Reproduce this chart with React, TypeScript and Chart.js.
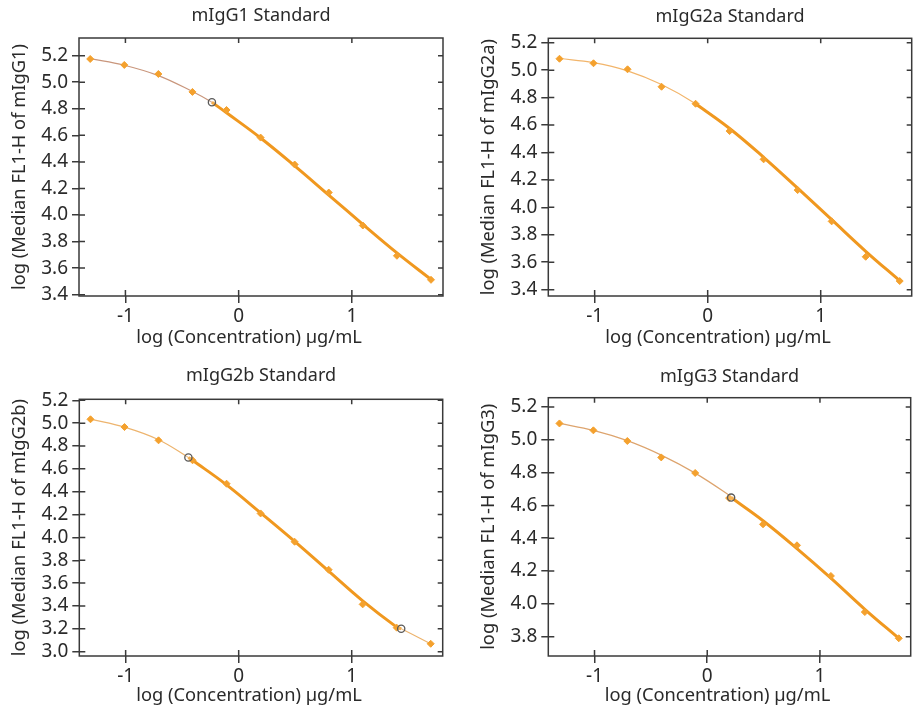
import React, { useEffect, useRef } from 'react';
import { Chart, registerables } from 'chart.js';

Chart.register(...registerables);

// ---------- data ----------
const logConc = [-1.311, -1.01, -0.709, -0.408, -0.107, 0.194, 0.495, 0.796, 1.097, 1.398, 1.699];
const xTicks = [-1, 0, 1];

const titles = ['mIgG1 Standard', 'mIgG2a Standard', 'mIgG2b Standard', 'mIgG3 Standard'];
const yTitles = [
  'log (Median FL1-H of mIgG1)',
  'log (Median FL1-H of mIgG2a)',
  'log (Median FL1-H of mIgG2b)',
  'log (Median FL1-H of mIgG3)',
];
const xTitle = 'log (Concentration) µg/mL';

// measured standards
const g1Measured = [5.175, 5.13, 5.062, 4.927, 4.791, 4.583, 4.38, 4.169, 3.921, 3.693, 3.512];
const g2aMeasured = [5.083, 5.05, 5.006, 4.879, 4.755, 4.556, 4.35, 4.126, 3.898, 3.64, 3.463];
const g2bMeasured = [5.034, 4.966, 4.85, 4.675, 4.47, 4.21, 3.962, 3.717, 3.414, 3.21, 3.069];
const g3Measured = [5.1, 5.058, 4.993, 4.893, 4.798, 4.645, 4.485, 4.357, 4.17, 3.95, 3.79];

// fitted curve read at the standard concentrations
const g1Fit = [5.178, 5.128, 5.05, 4.93, 4.77, 4.58, 4.37, 4.15, 3.93, 3.715, 3.515];
const g2aFit = [5.085, 5.055, 4.995, 4.895, 4.755, 4.575, 4.365, 4.14, 3.91, 3.68, 3.465];
const g2bFit = [5.035, 4.965, 4.855, 4.675, 4.46, 4.215, 3.965, 3.705, 3.445, 3.215, 3.068];
const g3Fit = [5.1, 5.058, 4.995, 4.907, 4.797, 4.662, 4.507, 4.337, 4.157, 3.967, 3.79];

// quantification limits (open circles) on the curve
const g1LimitX = [-0.236];
const g1LimitY = [4.849];
const g2aLimitX: number[] = [];
const g2aLimitY: number[] = [];
const g2bLimitX = [-0.445, 1.438];
const g2bLimitY = [4.7, 3.2];
const g3LimitX = [0.212];
const g3LimitY = [4.648];

// thick (quantifiable) range of each curve
const g1Range = [-0.236, 1.699];
const g2aRange = [-0.12, 1.699];
const g2bRange = [-0.445, 1.438];
const g3Range = [0.212, 1.699];

// axis ranges
const xRange = [-1.41, 1.805];
const g1YRange = [3.39, 5.333];
const g2aYRange = [3.354, 5.232];
const g2bYRange = [2.962, 5.209];
const g3YRange = [3.682, 5.257];

const g1YTicks = [3.4, 3.6, 3.8, 4.0, 4.2, 4.4, 4.6, 4.8, 5.0, 5.2];
const g2aYTicks = [3.4, 3.6, 3.8, 4.0, 4.2, 4.4, 4.6, 4.8, 5.0, 5.2];
const g2bYTicks = [3.0, 3.2, 3.4, 3.6, 3.8, 4.0, 4.2, 4.4, 4.6, 4.8, 5.0, 5.2];
const g3YTicks = [3.8, 4.0, 4.2, 4.4, 4.6, 4.8, 5.0, 5.2];

// ---------- styles ----------
const FONT = "'Noto Sans', 'DejaVu Sans', sans-serif";
const TEXT = '#2a2a2a';
const AXIS = '#3a3a3a';
const MARKER = '#F4A12E';
const THICK = '#F0981F';

const panels = [
  {
    title: titles[0], yTitle: yTitles[0], measured: g1Measured, fit: g1Fit,
    limX: g1LimitX, limY: g1LimitY, range: g1Range, yRange: g1YRange, yTicks: g1YTicks,
    thin: '#C9967C', left: 0, top: 0,
    area: { l: 79, r: 443, t: 38, b: 296 }, yTitleC: 20, titleC: 16, xTitleC: 338,
  },
  {
    title: titles[1], yTitle: yTitles[1], measured: g2aMeasured, fit: g2aFit,
    limX: g2aLimitX, limY: g2aLimitY, range: g2aRange, yRange: g2aYRange, yTicks: g2aYTicks,
    thin: '#F2B56B', left: 460, top: 0,
    area: { l: 88.3, r: 451.7, t: 38.3, b: 296 }, yTitleC: 28.3, titleC: 16.5, xTitleC: 338,
  },
  {
    title: titles[2], yTitle: yTitles[2], measured: g2bMeasured, fit: g2bFit,
    limX: g2bLimitX, limY: g2bLimitY, range: g2bRange, yRange: g2bYRange, yTicks: g2bYTicks,
    thin: '#EDB46E', left: 0, top: 356,
    area: { l: 79.3, r: 442.7, t: 43.3, b: 300 }, yTitleC: 20, titleC: 20, xTitleC: 340,
  },
  {
    title: titles[3], yTitle: yTitles[3], measured: g3Measured, fit: g3Fit,
    limX: g3LimitX, limY: g3LimitY, range: g3Range, yRange: g3YRange, yTicks: g3YTicks,
    thin: '#DDA46E', left: 460, top: 356,
    area: { l: 88.3, r: 450.7, t: 41.7, b: 300 }, yTitleC: 28.3, titleC: 20.5, xTitleC: 340,
  },
];

const TICK_SIZE = 19;
const AXIS_TITLE_SIZE = 18.3;
const TITLE_SIZE = 18;
const X_TITLE_SHIFT = -12;

const framePlugin = {
  id: 'frame',
  afterDraw(chart: any) {
    const { ctx, chartArea } = chart;
    const { left, right, top, bottom } = chartArea;
    const x = chart.scales.x;
    const y = chart.scales.y;
    const opts = chart.options.plugins.frame || {};
    ctx.save();
    ctx.strokeStyle = AXIS;
    ctx.lineWidth = 1.5;
    ctx.strokeRect(left, top, right - left, bottom - top);
    ctx.beginPath();
    x.ticks.forEach((t: any) => {
      const px = x.getPixelForValue(t.value);
      ctx.moveTo(px, bottom);
      ctx.lineTo(px, bottom - 6);
      ctx.moveTo(px, top);
      ctx.lineTo(px, top + 5);
    });
    y.ticks.forEach((t: any) => {
      const py = y.getPixelForValue(t.value);
      ctx.moveTo(left, py);
      ctx.lineTo(left + 6, py);
      ctx.moveTo(right, py);
      ctx.lineTo(right - 5, py);
    });
    ctx.stroke();
    // x axis title
    ctx.fillStyle = TEXT;
    ctx.font = `${AXIS_TITLE_SIZE}px ${FONT}`;
    ctx.textAlign = 'center';
    ctx.textBaseline = 'middle';
    ctx.fillText(xTitle, (left + right) / 2 + X_TITLE_SHIFT, opts.xTitleY);
    ctx.restore();
  },
};

function buildConfig(p: any) {
  const curve: { x: number; y: number }[] = logConc.map((x, i) => ({ x, y: p.fit[i] }));
  p.limX.forEach((x: number, i: number) => curve.push({ x, y: p.limY[i] }));
  curve.sort((a, b) => a.x - b.x);
  const thick = curve.filter((d) => d.x >= p.range[0] - 1e-9 && d.x <= p.range[1] + 1e-9);
  const pts = logConc.map((x, i) => ({ x, y: p.measured[i] }));
  const lims = p.limX.map((x: number, i: number) => ({ x, y: p.limY[i] }));

  const axisLH = AXIS_TITLE_SIZE * 1.2;
  const padL = p.yTitleC - axisLH / 2;
  const yW = p.area.l - padL;
  const padR = 460 - p.area.r;
  const titleLH = TITLE_SIZE * 1.2;
  const tTop = p.titleC - titleLH / 2;
  const tBottom = p.area.t - tTop - titleLH;
  const xBottom = p.xTitleC + axisLH / 2;
  const xH = xBottom - p.area.b;
  const padB = 356 - xBottom;

  return {
    type: 'scatter' as const,
    data: {
      datasets: [
        {
          data: lims, order: 0, pointStyle: 'circle', pointRadius: 3.6,
          borderColor: '#5a5a5a', backgroundColor: 'rgba(255,255,255,0.2)', pointBorderWidth: 1.3,
          showLine: false,
        },
        {
          data: pts, order: 1, pointStyle: 'rectRot', pointRadius: 3.5,
          backgroundColor: MARKER, borderColor: MARKER, pointBorderWidth: 1, showLine: false,
        },
        {
          data: thick, order: 2, showLine: true, pointRadius: 0, borderColor: THICK,
          borderWidth: 3, tension: 0.4,
        },
        {
          data: curve, order: 3, showLine: true, pointRadius: 0, borderColor: p.thin,
          borderWidth: 1.2, tension: 0.4,
        },
      ],
    },
    options: {
      animation: false,
      responsive: false,
      events: [],
      layout: { padding: { left: padL, right: padR, top: 0, bottom: padB } },
      plugins: {
        legend: { display: false },
        tooltip: { enabled: false },
        frame: { xTitleY: p.xTitleC },
        title: {
          display: true, text: p.title, fullSize: false, color: TEXT,
          font: { family: FONT, size: TITLE_SIZE, weight: 'normal' },
          padding: { top: tTop, bottom: tBottom },
        },
      },
      scales: {
        x: {
          type: 'linear', min: xRange[0], max: xRange[1],
          afterBuildTicks: (s: any) => { s.ticks = xTicks.map((v) => ({ value: v })); },
          afterFit: (s: any) => { s.height = xH; },
          ticks: {
            color: TEXT, font: { family: FONT, size: TICK_SIZE }, padding: 2, autoSkip: false,
            maxRotation: 0,
            callback: (v: any) => String(v),
          },
          grid: { drawOnChartArea: false, drawTicks: true, tickLength: 7, color: AXIS, lineWidth: 1.5 },
          border: { display: false },
          title: { display: false },
        },
        y: {
          type: 'linear', min: p.yRange[0], max: p.yRange[1],
          afterBuildTicks: (s: any) => { s.ticks = p.yTicks.map((v: number) => ({ value: v })); },
          afterFit: (s: any) => { s.width = yW; },
          ticks: {
            color: TEXT, font: { family: FONT, size: TICK_SIZE }, padding: 4, autoSkip: false,
            callback: (v: any) => Number(v).toFixed(1),
          },
          grid: { drawOnChartArea: false, drawTicks: true, tickLength: 7, color: AXIS, lineWidth: 1.5 },
          border: { display: false },
          title: { display: true, text: p.yTitle, color: TEXT, font: { family: FONT, size: AXIS_TITLE_SIZE }, padding: 0 },
        },
      },
    },
    plugins: [framePlugin],
  };
}

function Panel({ p }: { p: any }) {
  const ref = useRef<HTMLCanvasElement>(null);
  useEffect(() => {
    const chart = new Chart(ref.current as HTMLCanvasElement, buildConfig(p) as any);
    return () => chart.destroy();
  }, [p]);
  return (
    <canvas
      ref={ref}
      width={460}
      height={356}
      style={{ position: 'absolute', left: p.left, top: p.top, width: 460, height: 356 }}
    />
  );
}

export default function App() {
  return (
    <div style={{ position: 'absolute', left: 0, top: 0, width: 920, height: 712, background: '#fff' }}>
      {panels.map((p, i) => (
        <Panel key={i} p={p} />
      ))}
    </div>
  );
}
